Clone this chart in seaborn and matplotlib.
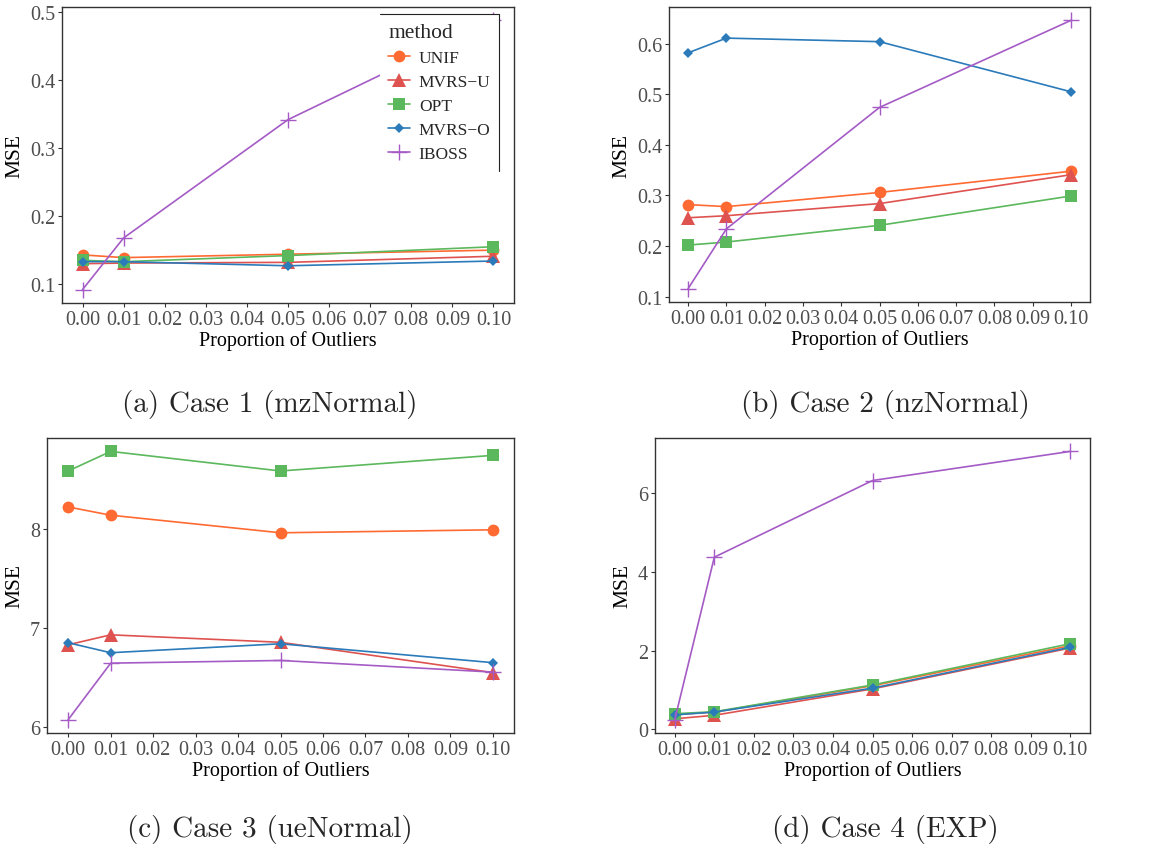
import pandas as pd
import matplotlib.pyplot as plt
import seaborn as sns
from matplotlib.lines import Line2D

# x positions and methods
props = [0.00, 0.01, 0.05, 0.10]
methods = ['UNIF', 'MVRS-U', 'OPT', 'MVRS-O', 'IBOSS']
legend_labels = ['UNIF', 'MVRS\u2212U', 'OPT', 'MVRS\u2212O', 'IBOSS']
xtick_vals = [0.00, 0.01, 0.02, 0.03, 0.04, 0.05, 0.06, 0.07, 0.08, 0.09, 0.10]

# MSE values, one list per method and case
case1_unif = [0.143, 0.139, 0.144, 0.150]
case1_mvrsu = [0.130, 0.131, 0.132, 0.141]
case1_opt = [0.135, 0.133, 0.142, 0.155]
case1_mvrso = [0.133, 0.133, 0.127, 0.134]
case1_iboss = [0.092, 0.168, 0.342, 0.488]

case2_unif = [0.282, 0.278, 0.306, 0.348]
case2_mvrsu = [0.256, 0.260, 0.284, 0.341]
case2_opt = [0.202, 0.208, 0.241, 0.299]
case2_mvrso = [0.582, 0.611, 0.604, 0.505]
case2_iboss = [0.116, 0.234, 0.474, 0.646]

case3_unif = [8.217, 8.134, 7.957, 7.987]
case3_mvrsu = [6.83, 6.93, 6.855, 6.55]
case3_opt = [8.579, 8.776, 8.579, 8.736]
case3_mvrso = [6.85, 6.75, 6.84, 6.65]
case3_iboss = [6.077, 6.645, 6.672, 6.555]

case4_unif = [0.38, 0.44, 1.11, 2.13]
case4_mvrsu = [0.27, 0.36, 1.03, 2.07]
case4_opt = [0.40, 0.45, 1.13, 2.18]
case4_mvrso = [0.37, 0.44, 1.05, 2.09]
case4_iboss = [0.25, 4.38, 6.33, 7.07]

# y ticks per panel
yticks1 = [0.1, 0.2, 0.3, 0.4, 0.5]
yticks2 = [0.1, 0.2, 0.3, 0.4, 0.5, 0.6]
yticks3 = [6, 7, 8]
yticks4 = [0, 2, 4, 6]

captions = ['(a) Case 1 (mzNormal)', '(b) Case 2 (nzNormal)',
            '(c) Case 3 (ueNormal)', '(d) Case 4 (EXP)']

cases = [
    [case1_unif, case1_mvrsu, case1_opt, case1_mvrso, case1_iboss],
    [case2_unif, case2_mvrsu, case2_opt, case2_mvrso, case2_iboss],
    [case3_unif, case3_mvrsu, case3_opt, case3_mvrso, case3_iboss],
    [case4_unif, case4_mvrsu, case4_opt, case4_mvrso, case4_iboss],
]
yticks_all = [yticks1, yticks2, yticks3, yticks4]
yfmt = ['{:.1f}', '{:.1f}', '{:.0f}', '{:.0f}']

colors = {'UNIF': '#FF6A33', 'MVRS-U': '#DE5350', 'OPT': '#5CB85C',
          'MVRS-O': '#2B7BBA', 'IBOSS': '#A45BC5'}
markers = {'UNIF': 'o', 'MVRS-U': '^', 'OPT': 's', 'MVRS-O': 'D', 'IBOSS': '+'}
msizes = {'UNIF': 8.5, 'MVRS-U': 10, 'OPT': 8.3, 'MVRS-O': 5, 'IBOSS': 11}

sns.set_theme(style='white')
plt.rcParams['font.family'] = ['Liberation Serif', 'DejaVu Serif']

fig = plt.figure(figsize=(11.5, 8.54), dpi=100)

# axes boxes in pixels: left, right, top, bottom
boxes = [(62, 514, 8, 304), (669, 1090, 8, 303),
         (47, 514, 439, 734), (655, 1090, 439, 734)]
cap_pos = [(270, 405), (885, 405), (270, 830), (885, 830)]

W, H = 1150, 854
leg = None
for i, (vals, box) in enumerate(zip(cases, boxes)):
    l, r, t, b = box
    ax = fig.add_axes([l / W, 1 - b / H, (r - l) / W, (b - t) / H])
    rows = []
    for m, v in zip(methods, vals):
        for p, y in zip(props, v):
            rows.append({'prop': p, 'mse': y, 'method': m})
    df = pd.DataFrame(rows)
    for m in methods:
        sub = df[df['method'] == m]
        filled = markers[m] != '+'
        sns.lineplot(data=sub, x='prop', y='mse', color=colors[m],
                     marker=markers[m], markersize=msizes[m],
                     markeredgecolor=colors[m],
                     markeredgewidth=0 if filled else 1.0,
                     linewidth=1.2, ax=ax, legend=False)
    ax.set_xticks(xtick_vals)
    ax.set_xticklabels([f'{x:.2f}' for x in xtick_vals])
    yt = yticks_all[i]
    ax.set_yticks(yt)
    ax.set_yticklabels([yfmt[i].format(y) for y in yt])
    ax.set_xlabel('Proportion of Outliers', fontsize=14.5, color='black', labelpad=1)
    ax.set_ylabel('MSE', fontsize=15.5, color='black', labelpad=4)
    ax.tick_params(axis='both', labelsize=14.5, labelcolor='#4D4D4D',
                   length=3, width=0.8, color='#333333', pad=2,
                   bottom=True, left=True)
    for s in ax.spines.values():
        s.set_color('#333333')
        s.set_linewidth(1.0)
    ax.grid(False)
    cx, cy = cap_pos[i]
    fig.text(cx / W, 1 - cy / H, captions[i], ha='center', va='center',
             fontsize=21, family='cmr10')

    if i == 0:
        handles = [Line2D([0], [0], color=colors[m], marker=markers[m],
                          markersize=msizes[m], markeredgecolor=colors[m],
                          markeredgewidth=0 if markers[m] != '+' else 1.0,
                          linewidth=1.2) for m in methods]
        leg = ax.legend(handles, legend_labels, title='method', loc='upper left',
                        bbox_to_anchor=(0.703, 0.975), fontsize=12.5,
                        title_fontsize=15.5, frameon=True, fancybox=False,
                        handlelength=1.25, handletextpad=0.5, borderpad=0.5,
                        labelspacing=0.45, borderaxespad=0)
        leg._legend_box.align = 'left'
        leg.get_frame().set_edgecolor('none')
        leg.get_frame().set_facecolor('white')
        leg.get_frame().set_alpha(1)

# ggplot-like legend box: only the top and right edges are drawn
fig.canvas.draw()
bb = leg.get_window_extent().transformed(fig.transFigure.inverted())
fig.add_artist(Line2D([bb.x0, bb.x1], [bb.y1, bb.y1], color='#222222',
                      linewidth=0.8, transform=fig.transFigure))
fig.add_artist(Line2D([bb.x1, bb.x1], [bb.y0, bb.y1], color='#222222',
                      linewidth=0.8, transform=fig.transFigure))

fig.savefig('out.png', dpi=100)
